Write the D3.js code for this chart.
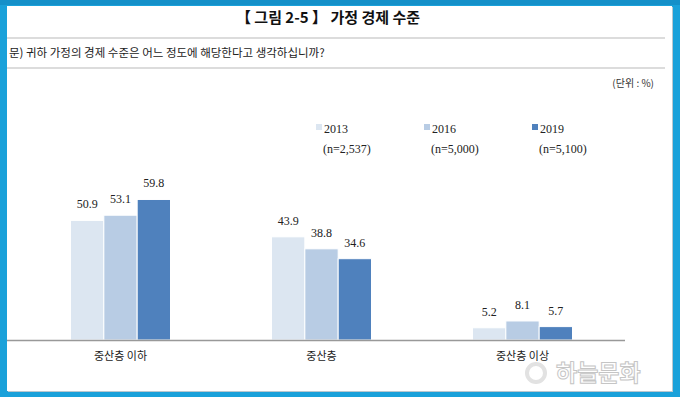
<!DOCTYPE html>
<html>
<head>
<meta charset="utf-8">
<script src="https://cdn.jsdelivr.net/npm/d3@7"></script>
<style>
  body { margin: 0; padding: 0; overflow: hidden; }
</style>
</head>
<body>
<script>
const width = 680;
const height = 397;

const categories = ["중산층 이하", "중산층", "중산층 이상"];
const years = ["2013", "2016", "2019"];
const sampleSizes = ["(n=2,537)", "(n=5,000)", "(n=5,100)"];
const values2013 = [50.9, 43.9, 5.2];
const values2016 = [53.1, 38.8, 8.1];
const values2019 = [59.8, 34.6, 5.7];
const colors = ["#dce6f1", "#b8cce4", "#4f81bd"];

const series = [values2013, values2016, values2019];
const data = categories.map((c, i) => ({
  cat: c,
  vals: years.map((y, j) => ({ year: y, value: series[j][i] }))
}));

const svg = d3.select("body").append("svg")
  .attr("width", width)
  .attr("height", height);

// blue frame + white panel
svg.append("rect").attr("width", width).attr("height", height).attr("fill", "#1aa1da");
svg.append("rect").attr("x", 0).attr("y", 0).attr("width", width).attr("height", 5).attr("fill", "#1590c9");
svg.append("rect").attr("x", 8).attr("y", 7).attr("width", 665).attr("height", 385).attr("fill", "#b9c7cf");
svg.append("rect").attr("x", 7).attr("y", 6).attr("width", 665).attr("height", 385).attr("fill", "#fff");

svg.append("clipPath").attr("id", "panel")
  .append("rect").attr("x", 7).attr("y", 6).attr("width", 665).attr("height", 385);

const panel = svg.append("g").attr("clip-path", "url(#panel)");

// title
panel.append("text")
  .attr("x", 328).attr("y", 23)
  .attr("text-anchor", "middle")
  .attr("font-family", "'Noto Sans CJK KR', sans-serif")
  .attr("font-weight", "bold")
  .attr("font-size", 15)
  .attr("fill", "#111")
  .text("【 그림 2-5 】 가정 경제 수준");

panel.append("line").attr("x1", 7).attr("x2", 665).attr("y1", 38).attr("y2", 38)
  .attr("stroke", "#dcdcdc").attr("stroke-width", 2);

svg.append("text")
  .attr("x", 9).attr("y", 57)
  .attr("font-family", "'Noto Sans CJK KR', sans-serif")
  .attr("font-size", 11.5)
  .attr("fill", "#222")
  .text("문) 귀하 가정의 경제 수준은 어느 정도에 해당한다고 생각하십니까?");

panel.append("line").attr("x1", 7).attr("x2", 665).attr("y1", 68).attr("y2", 68)
  .attr("stroke", "#dcdcdc").attr("stroke-width", 2);

panel.append("text")
  .attr("x", 654).attr("y", 87)
  .attr("text-anchor", "end")
  .attr("font-family", "'Noto Sans CJK KR', sans-serif")
  .attr("font-size", 10)
  .attr("fill", "#333")
  .text("(단위 : %)");

// scales
const x0 = d3.scaleBand().domain(categories).range([20, 623]);
const x1 = d3.scaleBand().domain(years)
  .range([x0.bandwidth() / 2 - 50, x0.bandwidth() / 2 + 50]);
const color = d3.scaleOrdinal().domain(years).range(colors);
const y = d3.scaleLinear().domain([0, 60]).range([340, 199]);

// bars
const groups = panel.append("g")
  .selectAll("g")
  .data(data)
  .join("g")
  .attr("transform", d => `translate(${x0(d.cat)},0)`);

groups.selectAll("rect")
  .data(d => d.vals)
  .join("rect")
  .attr("x", d => x1(d.year))
  .attr("y", d => y(d.value))
  .attr("width", x1.bandwidth())
  .attr("height", d => y(0) - y(d.value))
  .attr("fill", d => color(d.year))
  .attr("stroke", "#fff")
  .attr("stroke-width", 1);

groups.selectAll("text")
  .data(d => d.vals)
  .join("text")
  .attr("x", d => x1(d.year) + x1.bandwidth() / 2)
  .attr("y", d => y(d.value) - 12)
  .attr("text-anchor", "middle")
  .attr("font-family", "'Liberation Serif', serif")
  .attr("font-size", 12)
  .attr("fill", "#222")
  .text(d => d.value.toFixed(1));

// baseline axis
const xAxis = d3.axisBottom(x0).tickSize(0).tickPadding(12);
const axisG = panel.append("g")
  .attr("transform", `translate(0,${y(0)})`)
  .call(xAxis);
axisG.select(".domain").attr("d", `M7,0.5H625`).attr("stroke", "#999").attr("stroke-width", 1.5);
axisG.selectAll("text")
  .attr("font-family", "'Noto Sans CJK KR', sans-serif")
  .attr("font-size", 11)
  .attr("fill", "#222");

// legend
const legendX = [316, 424, 532];
const legend = panel.append("g")
  .selectAll("g")
  .data(years)
  .join("g")
  .attr("transform", (d, i) => `translate(${legendX[i]},124)`);

legend.append("rect")
  .attr("width", 6).attr("height", 6)
  .attr("fill", d => color(d));

legend.append("text")
  .attr("x", 8).attr("y", 8.5)
  .attr("font-family", "'Liberation Serif', serif")
  .attr("font-size", 12)
  .attr("fill", "#222")
  .text(d => d);

legend.append("text")
  .attr("x", 7).attr("y", 28.5)
  .attr("font-family", "'Liberation Serif', serif")
  .attr("font-size", 12)
  .attr("fill", "#222")
  .text((d, i) => sampleSizes[i]);

// watermark
const wm = panel.append("g").attr("opacity", 0.85);
wm.append("circle").attr("cx", 536).attr("cy", 373).attr("r", 9)
  .attr("fill", "none").attr("stroke", "#ddd").attr("stroke-width", 4);
wm.append("text")
  .attr("x", 556).attr("y", 381)
  .attr("font-family", "'Noto Sans CJK KR', sans-serif")
  .attr("font-weight", "bold")
  .attr("font-size", 23)
  .attr("fill", "#fff")
  .attr("stroke", "#bbb")
  .attr("stroke-width", 1)
  .text("하늘문화");
</script>
</body>
</html>
